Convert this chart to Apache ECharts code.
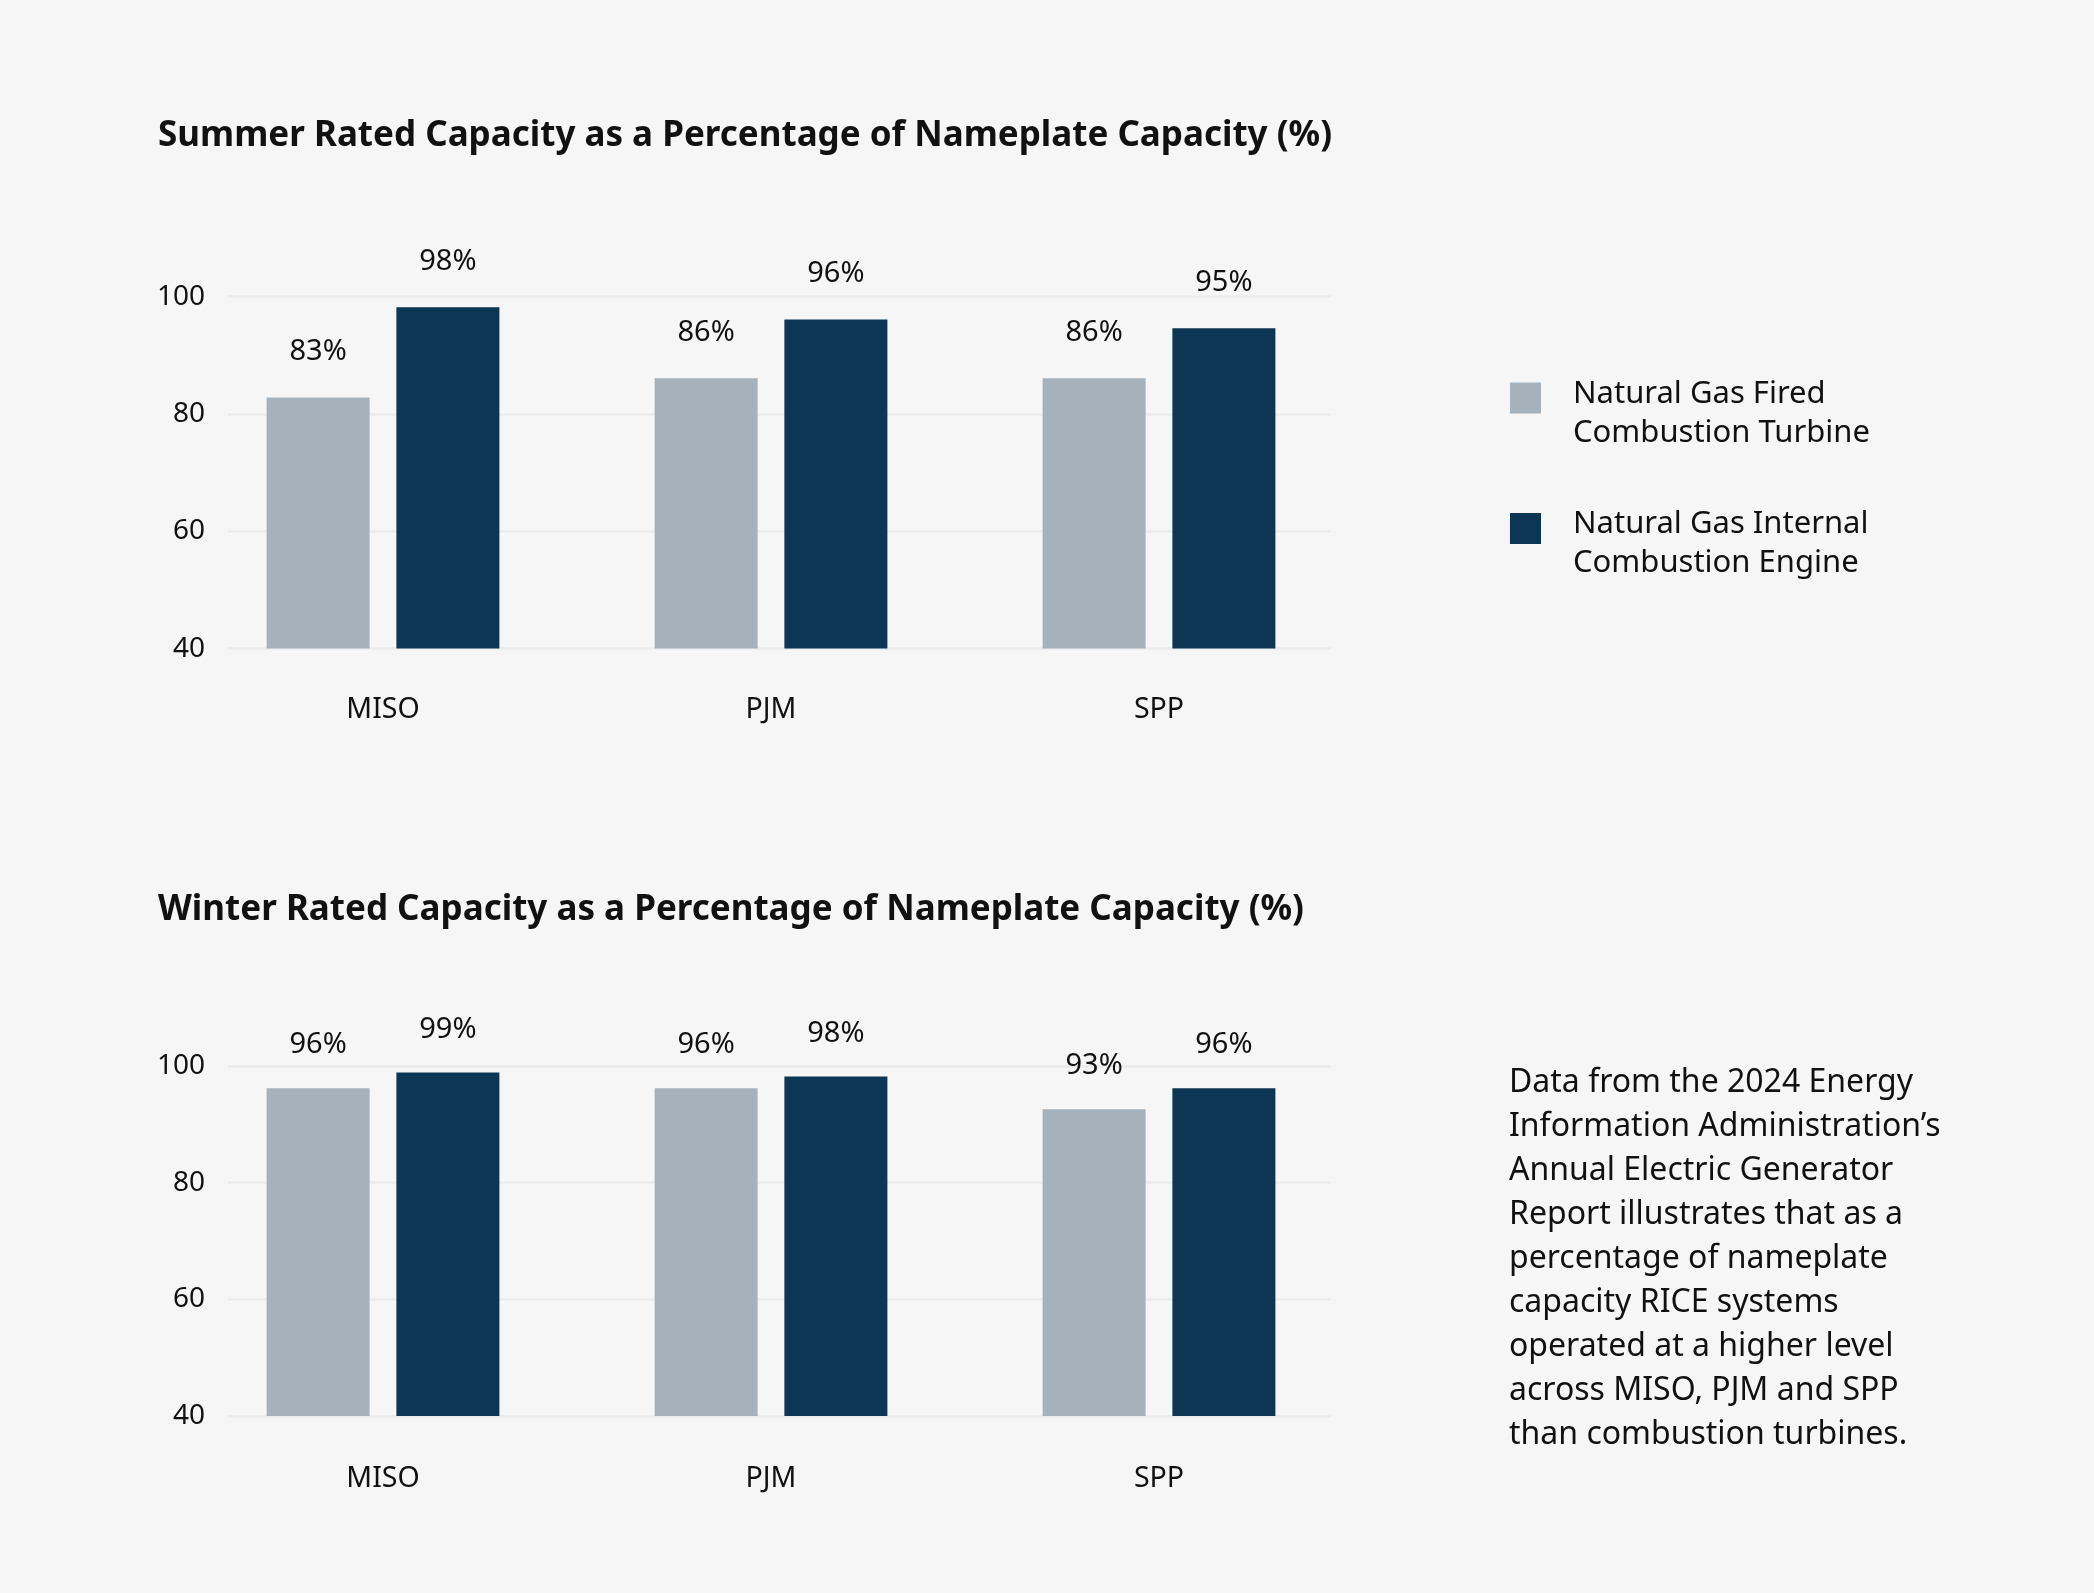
<!DOCTYPE html>
<html><head><meta charset="utf-8">
<script src="https://cdn.jsdelivr.net/npm/echarts@6/dist/echarts.min.js"></script>
<style>html,body{margin:0;padding:0;background:#f6f6f6;}#c{width:2094px;height:1593px;}</style>
</head><body><div id="c"></div>
<script>
const categories = ['MISO', 'PJM', 'SPP'];
const seriesNames = ['Natural Gas Fired\nCombustion Turbine', 'Natural Gas Internal\nCombustion Engine'];
const summerTurbine = [82.8, 86.1, 86.1];
const summerEngine = [98.2, 96.1, 94.6];
const winterTurbine = [96.2, 96.2, 92.6];
const winterEngine = [98.9, 98.2, 96.2];
const yTicks = [40, 60, 80, 100];
const titles = ['Summer Rated Capacity as a Percentage of Nameplate Capacity (%)', 'Winter Rated Capacity as a Percentage of Nameplate Capacity (%)'];
const noteLines = ['Data from the 2024 Energy', 'Information Administration\u2019s', 'Annual Electric Generator', 'Report illustrates that as a', 'percentage of nameplate', 'capacity RICE systems', 'operated at a higher level', 'across MISO, PJM and SPP', 'than combustion turbines.'];

const FONT = '"Noto Sans", "Open Sans", sans-serif';
const GRAY = '#a5b2bc', DARK = '#0c3654', TXT = '#111111';
const chart = echarts.init(document.getElementById('c'));

const panels = [{top: 296.7, height: 351.9, xMargin: 47, labDist: 31}, {top: 1066, height: 350, xMargin: 48, labDist: 28.5}];
const grids = [], xAxes = [], yAxes = [], series = [];
panels.forEach((p, i) => {
  grids.push({left: 189, width: 1164, top: p.top, height: p.height});
  grids.push({left: 228, width: 1103, top: p.top, height: p.height});
  xAxes.push({gridIndex: 2*i, type: 'category', data: categories,
    axisLine: {show: false}, axisTick: {show: false},
    axisLabel: {color: TXT, fontSize: 28.5, fontFamily: FONT, margin: p.xMargin}});
  xAxes.push({gridIndex: 2*i+1, type: 'value', show: false, min: 0, max: 1});
  yAxes.push({gridIndex: 2*i, type: 'value', min: yTicks[0], max: yTicks[yTicks.length-1], interval: 20, show: false, splitLine: {show: false}});
  yAxes.push({gridIndex: 2*i+1, type: 'value', min: yTicks[0], max: yTicks[yTicks.length-1], interval: 20,
    axisLine: {show: false}, axisTick: {show: false},
    axisLabel: {color: TXT, fontSize: 28, fontFamily: FONT, margin: 23},
    splitLine: {lineStyle: {color: '#ebebeb', width: 2.5}}});
  const data = i === 0 ? [summerTurbine, summerEngine] : [winterTurbine, winterEngine];
  data.forEach((d, k) => {
    series.push({name: seriesNames[k], type: 'bar', xAxisIndex: 2*i, yAxisIndex: 2*i, data: d,
      barWidth: 103, barGap: '26%', itemStyle: {color: k === 0 ? GRAY : DARK},
      label: {show: true, position: 'top', distance: p.labDist, color: TXT, fontSize: 29, fontFamily: FONT,
        formatter: (v) => Math.round(v.value) + '%'}});
  });
});

chart.setOption({
  backgroundColor: '#f6f6f6',
  animation: false,
  title: [
    {text: titles[0], left: 153, top: 131, textVerticalAlign: 'middle', textStyle: {fontFamily: FONT, fontWeight: 'bold', fontSize: 35, color: TXT}},
    {text: titles[1], left: 153, top: 905, textVerticalAlign: 'middle', textStyle: {fontFamily: FONT, fontWeight: 'bold', fontSize: 35, color: TXT}}
  ],
  legend: {orient: 'vertical', left: 1505, top: 349, icon: 'rect', itemWidth: 31, itemHeight: 31, itemGap: 36,
    data: seriesNames, selectedMode: false,
    formatter: (n) => '{s| }\n' + n.split('\n').map(l => '{t|' + l + '}').join('\n'),
    textStyle: {fontFamily: FONT, fontSize: 31, color: TXT, padding: [0, 0, 0, 27],
      rich: {s: {fontSize: 10, lineHeight: 31}, t: {fontFamily: FONT, fontSize: 31, lineHeight: 39, color: TXT}}}},
  grid: grids, xAxis: xAxes, yAxis: yAxes, series: series,
  graphic: [{type: 'text', left: 1509, top: 1061, style: {text: noteLines.join('\n'), font: '32px ' + FONT, lineHeight: 44, fill: TXT}}]
});
</script></body></html>
